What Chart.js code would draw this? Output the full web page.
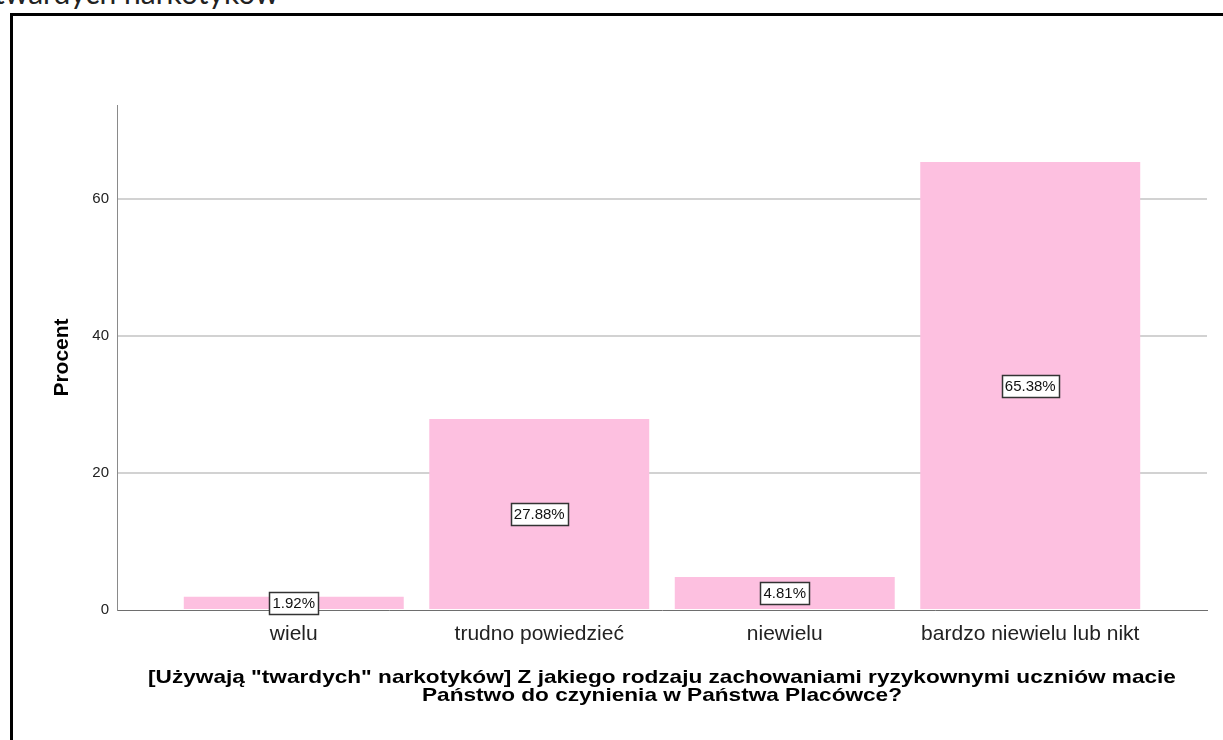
<!DOCTYPE html>
<html>
<head>
<meta charset="utf-8">
<script src="https://cdn.jsdelivr.net/npm/chart.js@4"></script>
<style>
  html, body { margin: 0; padding: 0; background: #fff; overflow: hidden; }
  #page { position: relative; width: 1223px; height: 740px; }
  #heading {
    position: absolute; left: -6px; top: -26px;
    font-family: Lato, "Open Sans", sans-serif; font-size: 30px; color: #222;
    white-space: nowrap;
  }
  #frame {
    position: absolute; left: 10px; top: 13px; width: 1240px; height: 760px;
    border-left: 3px solid #000; border-top: 3px solid #000;
  }
  #wrap { position: absolute; left: 0; top: 0; width: 1223px; height: 740px; }
</style>
</head>
<body>
<div id="page">
  <div id="heading">twardych narkotyków</div>
  <div id="frame"></div>
  <div id="wrap"><canvas id="chart"></canvas></div>
</div>
<script>
// categories and percentages
const categories = ['wielu', 'trudno powiedzieć', 'niewielu', 'bardzo niewielu lub nikt'];
const percents = [1.92, 27.88, 4.81, 65.38];
const yTicks = [0, 20, 40, 60];
const yTitle = 'Procent';
const xTitle = ['[Używają "twardych" narkotyków] Z jakiego rodzaju zachowaniami ryzykownymi uczniów macie',
                'Państwo do czynienia w Państwa Placówce?'];

const barColor = '#fdc0e0';
const fontFamily = '"Liberation Sans", Arial, sans-serif';

// boxed percentage labels in the middle of each bar
const boxLabels = {
  id: 'boxLabels',
  afterDatasetsDraw(chart) {
    const ctx = chart.ctx;
    const meta = chart.getDatasetMeta(0);
    ctx.save();
    ctx.font = '15px ' + fontFamily;
    ctx.textAlign = 'center';
    ctx.textBaseline = 'middle';
    meta.data.forEach((bar, i) => {
      const txt = percents[i].toFixed(2) + '%';
      const cx = bar.x;
      const cy = Math.round((bar.y + bar.base) / 2);
      const w = Math.ceil(ctx.measureText(txt).width) + 6;
      const h = 22;
      const x0 = Math.round(cx - w / 2) + 0.5;
      const y0 = Math.round(cy - h / 2) + 0.5;
      ctx.fillStyle = '#fff';
      ctx.fillRect(x0, y0, w, h);
      ctx.strokeStyle = '#333';
      ctx.lineWidth = 1.5;
      ctx.strokeRect(x0, y0, w, h);
      ctx.fillStyle = '#111';
      ctx.fillText(txt, cx, cy + 1);
    });
    ctx.restore();
  }
};

// x axis title: bold, a little wide, two tight lines under the tick labels
const wideXTitle = {
  id: 'wideXTitle',
  afterDraw(chart) {
    const ctx = chart.ctx;
    const area = chart.chartArea;
    const cx = (area.left + area.right) / 2;
    ctx.save();
    ctx.font = 'bold 19px ' + fontFamily;
    ctx.fillStyle = '#000';
    ctx.textAlign = 'center';
    ctx.textBaseline = 'middle';
    ctx.translate(cx, 0);
    ctx.scale(1.19, 1);
    xTitle.forEach((line, i) => ctx.fillText(line, 0, 678 + i * 18));
    ctx.restore();
  }
};

new Chart(document.getElementById('chart'), {
  type: 'bar',
  data: {
    datasets: [{
      data: percents.map((v, i) => ({ x: i, y: v })),
      backgroundColor: barColor,
      borderWidth: 0,
      barPercentage: 0.896,
      categoryPercentage: 1.0
    }]
  },
  options: {
    responsive: true,
    maintainAspectRatio: false,
    animation: false,
    layout: { padding: { top: 105, right: 16, left: 0, bottom: 0 } },
    plugins: {
      legend: { display: false },
      tooltip: { enabled: false }
    },
    scales: {
      x: {
        type: 'linear',
        min: -0.72,
        max: 3.72,
        offset: false,
        afterBuildTicks: (s) => { s.ticks = categories.map((_, i) => ({ value: i })); },
        afterFit: (s) => { s.height = 130; },
        grid: { display: false, drawTicks: false },
        border: { display: true, color: '#6e6e6e', width: 1 },
        ticks: {
          autoSkip: false,
          maxRotation: 0,
          padding: 12,
          color: '#222',
          font: { family: fontFamily, size: 21 },
          callback: (v) => categories[v] ?? ''
        },
        title: { display: false }
      },
      y: {
        min: 0,
        max: 73.7,
        afterBuildTicks: (s) => { s.ticks = yTicks.map(v => ({ value: v })); },
        afterFit: (s) => { s.width = 117; },
        grid: { color: (c) => c.tick && c.tick.value === 0 ? 'rgba(0,0,0,0)' : '#d2d2d2', lineWidth: 2, drawTicks: false },
        border: { display: true, color: '#8a8a8a', width: 1 },
        ticks: {
          padding: 8,
          color: '#222',
          font: { family: fontFamily, size: 15 }
        },
        title: {
          display: true,
          text: yTitle,
          color: '#000',
          font: { family: fontFamily, size: 21, weight: 'bold' },
          padding: { top: 50, bottom: 0 }
        }
      }
    }
  },
  plugins: [boxLabels, wideXTitle]
});
</script>
</body>
</html>
